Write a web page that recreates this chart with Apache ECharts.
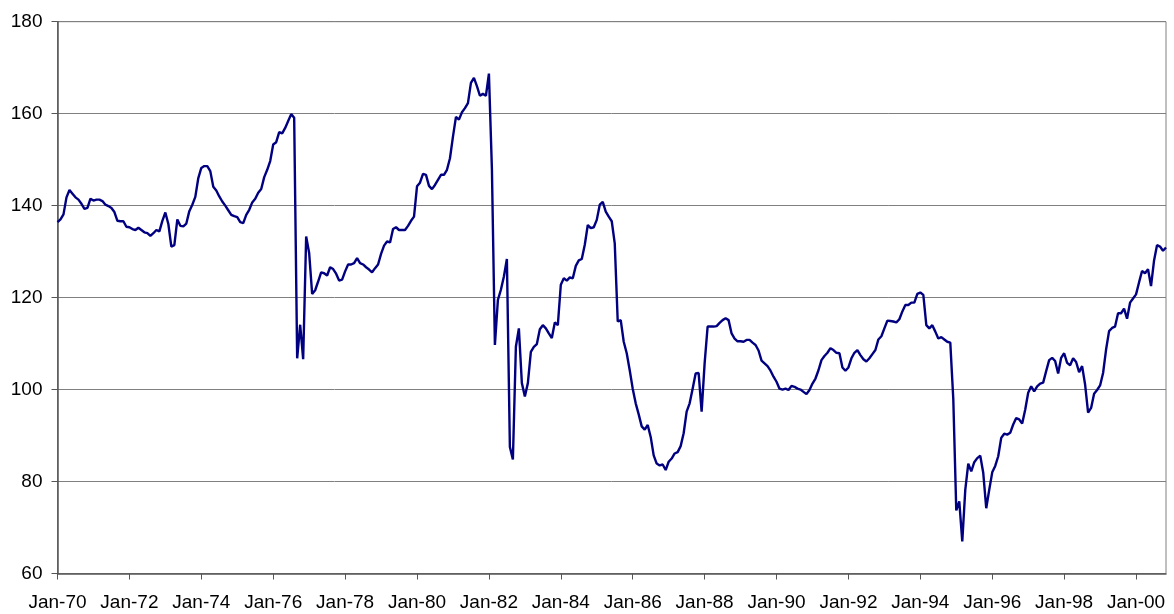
<!DOCTYPE html>
<html>
<head>
<meta charset="utf-8">
<script src="https://cdn.jsdelivr.net/npm/echarts@6/dist/echarts.min.js"></script>
<style>
  html, body { margin: 0; padding: 0; background: #fff; }
  #chart { width: 1174px; height: 614px; }
</style>
</head>
<body>
<div id="chart"></div>
<script>
// monthly index, Jan-70 .. Nov-00
const monthNames = ['Jan', 'Feb', 'Mar', 'Apr', 'May', 'Jun', 'Jul', 'Aug', 'Sep', 'Oct', 'Nov', 'Dec'];
const startYear = 1970;
const pointCount = 371;

const values1970s = [
  136.4, 137.0, 138.1, 141.8, 143.4, 142.6, 141.8, 141.3, 140.4, 139.3, 139.5, 141.5,
  141.1, 141.3, 141.3, 141.0, 140.2, 139.9, 139.5, 138.6, 136.7, 136.6, 136.6, 135.4,
  135.3, 134.9, 134.7, 135.2, 134.7, 134.2, 134.0, 133.4, 134.0, 134.7, 134.4, 136.7,
  138.5, 136.0, 131.1, 131.4, 137.0, 135.6, 135.5, 136.1, 138.8, 140.2, 141.9, 146.0,
  148.2, 148.6, 148.6, 147.5, 144.1, 143.3, 142.0, 140.9, 140.0, 139.0, 138.0, 137.7,
  137.5, 136.4, 136.2, 138.0, 139.1, 140.7, 141.5, 142.8, 143.6, 146.2, 147.8, 149.7,
  153.3, 153.8, 156.0, 155.7, 156.9, 158.4, 159.9, 159.1, 106.8, 114.1, 106.6, 133.3,
  129.7, 120.8, 121.6, 123.5, 125.5, 125.3, 124.8, 126.6, 126.2, 125.2, 123.7, 123.9,
  125.7, 127.2, 127.2, 127.5, 128.6, 127.5, 127.2, 126.6, 126.1, 125.5, 126.4, 127.2,
  129.5, 131.3, 132.2, 132.0, 134.9, 135.3, 134.7, 134.7, 134.7, 135.6, 136.7, 137.6
];
const values1980s = [
  144.2, 145.0, 146.9, 146.7, 144.3, 143.6, 144.5, 145.6, 146.7, 146.7, 147.8, 150.3,
  155.0, 159.3, 158.7, 160.3, 161.2, 162.3, 166.7, 167.8, 166.0, 163.9, 164.3, 163.9,
  168.7, 148.0, 109.7, 119.5, 121.7, 124.6, 128.4, 87.5, 84.8, 109.3, 113.3, 101.4,
  98.5, 101.4, 108.2, 109.3, 109.9, 113.1, 114.0, 113.3, 112.2, 111.2, 114.6, 114.0,
  122.8, 124.2, 123.7, 124.4, 124.2, 126.9, 128.1, 128.4, 131.5, 135.8, 135.1, 135.3,
  136.9, 140.2, 140.8, 138.7, 137.6, 136.6, 131.8, 114.8, 115.1, 110.4, 107.9, 104.2,
  100.2, 97.0, 94.6, 92.0, 91.3, 92.3, 89.7, 85.7, 83.9, 83.5, 83.7, 82.5,
  84.3, 85.0, 86.1, 86.4, 87.7, 90.5, 95.2, 97.0, 100.2, 103.5, 103.6, 95.2,
  105.7, 113.7, 113.7, 113.7, 113.8, 114.5, 115.1, 115.5, 115.1, 112.2, 111.1, 110.5,
  110.5, 110.4, 110.8, 110.8, 110.2, 109.7, 108.5, 106.3, 105.7, 105.1, 104.1, 102.8
];
const values1990s = [
  101.7, 100.2, 100.0, 100.2, 99.9, 100.8, 100.6, 100.2, 100.0, 99.5, 99.0, 99.9,
  101.3, 102.4, 104.2, 106.4, 107.3, 108.0, 109.0, 108.6, 108.0, 107.9, 104.8, 104.1,
  104.8, 106.8, 108.0, 108.6, 107.5, 106.6, 106.1, 106.8, 107.7, 108.6, 110.9, 111.6,
  113.3, 115.0, 114.9, 114.8, 114.6, 115.3, 117.0, 118.4, 118.4, 118.9, 118.9, 120.8,
  121.1, 120.6, 114.0, 113.3, 114.0, 112.6, 111.1, 111.4, 110.9, 110.4, 110.2, 98.0,
  73.7, 75.7, 67.0, 78.2, 83.9, 82.2, 84.2, 85.1, 85.6, 81.9, 74.2, 78.2,
  82.0, 83.4, 85.5, 89.5, 90.4, 90.2, 90.6, 92.4, 93.8, 93.5, 92.6, 95.6,
  99.3, 100.7, 99.6, 100.7, 101.3, 101.5, 104.0, 106.4, 106.9, 106.2, 103.5, 106.9,
  107.9, 105.8, 105.3, 106.8, 106.0, 103.8, 105.1, 101.1, 95.0, 96.0, 99.1, 99.9,
  100.9, 103.6, 108.7, 112.7, 113.4, 113.7, 116.6, 116.6, 117.6, 115.4, 118.9, 119.8
];
const values2000 = [120.7, 123.3, 125.8, 125.3, 126.2, 122.5, 128.0, 131.4, 131.1, 130.2, 130.9];

const yTicks = { min: 60, max: 180, interval: 20 };
const labelEvery = 24; // a label every two years

const months = [];
for (let i = 0; i < pointCount; i++) {
  const y = startYear + Math.floor(i / 12);
  months.push(monthNames[i % 12] + '-' + String(y % 100).padStart(2, '0'));
}
const values = values1970s.concat(values1980s, values1990s, values2000);

const chart = echarts.init(document.getElementById('chart'));
const showEvery = (index) => index % labelEvery === 0;

chart.setOption({
  animation: false,
  textStyle: { fontFamily: 'Liberation Sans, Arial, sans-serif' },
  grid: {
    left: 57.5, right: 8, top: 21.7, bottom: 40.5,
    show: true, borderColor: '#808080', borderWidth: 1
  },
  xAxis: {
    type: 'category',
    data: months,
    boundaryGap: false,
    axisLine: { lineStyle: { color: '#555', width: 1.5 } },
    axisTick: { interval: showEvery, length: 6, lineStyle: { color: '#555' } },
    axisLabel: { interval: showEvery, margin: 20, fontSize: 19, color: '#000' },
    splitLine: { show: false }
  },
  yAxis: {
    type: 'value',
    min: yTicks.min,
    max: yTicks.max,
    interval: yTicks.interval,
    axisLine: { show: true, lineStyle: { color: '#555', width: 1.5 } },
    axisTick: { show: true, length: 6, lineStyle: { color: '#555' } },
    axisLabel: { margin: 15, fontSize: 19, color: '#000' },
    splitLine: { lineStyle: { color: '#808080', width: 1 } }
  },
  series: [{
    type: 'line',
    data: values,
    showSymbol: false,
    lineStyle: { color: '#000080', width: 2.4 },
    itemStyle: { color: '#000080' }
  }]
});
</script>
</body>
</html>
